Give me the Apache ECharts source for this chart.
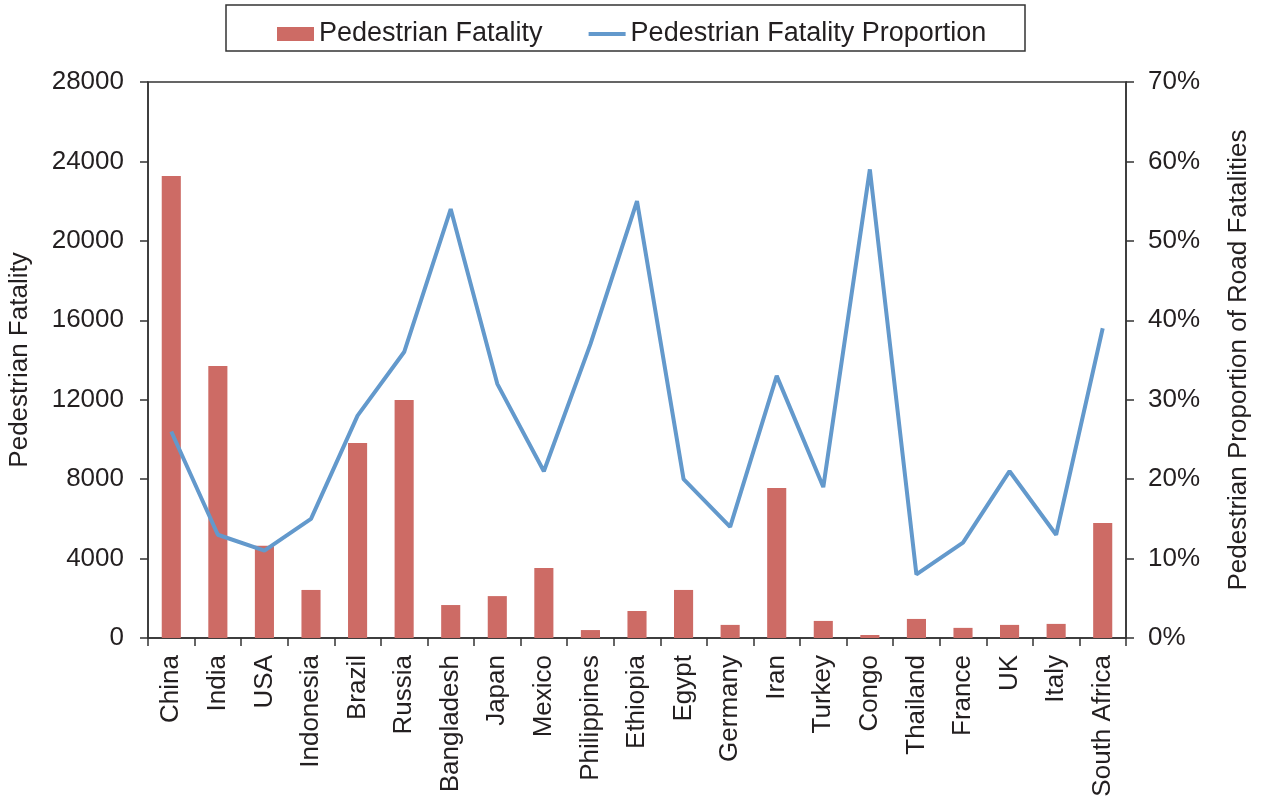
<!DOCTYPE html>
<html>
<head>
<meta charset="utf-8">
<script src="https://cdn.jsdelivr.net/npm/echarts@6/dist/echarts.min.js"></script>
<style>
  html, body { margin: 0; padding: 0; background: #fff; }
  #chart { width: 1264px; height: 801px; }
</style>
</head>
<body>
<div id="chart"></div>
<script>
// countries on the x axis
var countries = ['China', 'India', 'USA', 'Indonesia', 'Brazil', 'Russia', 'Bangladesh', 'Japan', 'Mexico',
  'Philippines', 'Ethiopia', 'Egypt', 'Germany', 'Iran', 'Turkey', 'Congo', 'Thailand', 'France', 'UK', 'Italy', 'South Africa'];
// pedestrian fatalities (left axis)
var fatality = [23270, 13700, 4640, 2420, 9820, 11990, 1660, 2110, 3530,
  400, 1360, 2420, 660, 7560, 860, 150, 960, 510, 660, 710, 5790];
// pedestrian share of road fatalities, % (right axis)
var proportion = [26, 13, 11, 15, 28, 36, 54, 32, 21,
  37, 55, 20, 14, 33, 19, 59, 8, 12, 21, 13, 39];

var txt = '#231f20';
var font = '"Liberation Sans", Arial, sans-serif';
var myChart = echarts.init(document.getElementById('chart'));

var options = {
    animation: false,
    textStyle: { fontFamily: font, color: txt },
    grid: {
        left: 148,
        right: 138,
        top: 82,
        bottom: 163,
        outerBoundsMode: 'none',
        show: true,
        borderColor: '#333',
        borderWidth: 1.5
    },
    graphic: [{
        type: 'rect',
        shape: { x: 226, y: 5, width: 799, height: 46 },
        style: { fill: 'none', stroke: '#333', lineWidth: 1.5 }
    }],
    legend: {
        left: 277,
        top: 19,
        itemWidth: 37,
        itemHeight: 14,
        itemGap: 46,
        padding: 0,
        textStyle: { fontSize: 27, color: txt, fontFamily: font, lineHeight: 27, padding: [3, 0, 0, 0] },
        data: [
            { name: 'Pedestrian Fatality', icon: 'rect', itemStyle: { borderWidth: 0 } },
            { name: 'Pedestrian Fatality Proportion', icon: 'path://M0,0L37,0L37,4L0,4Z' }
        ]
    },
    xAxis: {
        type: 'category',
        data: countries,
        axisLine: { lineStyle: { color: '#333', width: 1.5 } },
        axisTick: { show: true, length: 8, inside: false, lineStyle: { color: '#333', width: 1.5 } },
        axisLabel: { rotate: 90, margin: 17, fontSize: 26, color: txt, fontFamily: font, interval: 0 }
    },
    yAxis: [
        {
            type: 'value',
            name: 'Pedestrian Fatality',
            nameLocation: 'middle',
            nameGap: 115,
            nameTextStyle: { fontSize: 26, color: txt, fontFamily: font },
            min: 0,
            max: 28000,
            interval: 4000,
            splitLine: { show: false },
            axisLine: { show: true, lineStyle: { color: '#333', width: 1.5 } },
            axisTick: { show: true, length: 8, lineStyle: { color: '#333', width: 1.5 } },
            axisLabel: { margin: 24, fontSize: 26, color: txt, fontFamily: font, formatter: function (v) { return String(v); } }
        },
        {
            type: 'value',
            name: 'Pedestrian Proportion of Road Fatalities',
            nameLocation: 'middle',
            nameGap: 100,
            nameTextStyle: { fontSize: 26, color: txt, fontFamily: font },
            min: 0,
            max: 70,
            interval: 10,
            splitLine: { show: false },
            axisLine: { show: true, lineStyle: { color: '#333', width: 1.5 } },
            axisTick: { show: true, length: 8, lineStyle: { color: '#333', width: 1.5 } },
            axisLabel: { margin: 22, fontSize: 26, color: txt, fontFamily: font, formatter: '{value}%' }
        }
    ],
    series: [
        {
            name: 'Pedestrian Fatality',
            type: 'bar',
            barWidth: '41%',
            itemStyle: { color: '#cd6b65' },
            data: fatality
        },
        {
            name: 'Pedestrian Fatality Proportion',
            type: 'line',
            yAxisIndex: 1,
            symbol: 'none',
            itemStyle: { color: '#6399cc' },
            lineStyle: { color: '#6399cc', width: 4 },
            data: proportion
        }
    ]
};
myChart.setOption(options);
</script>
</body>
</html>
